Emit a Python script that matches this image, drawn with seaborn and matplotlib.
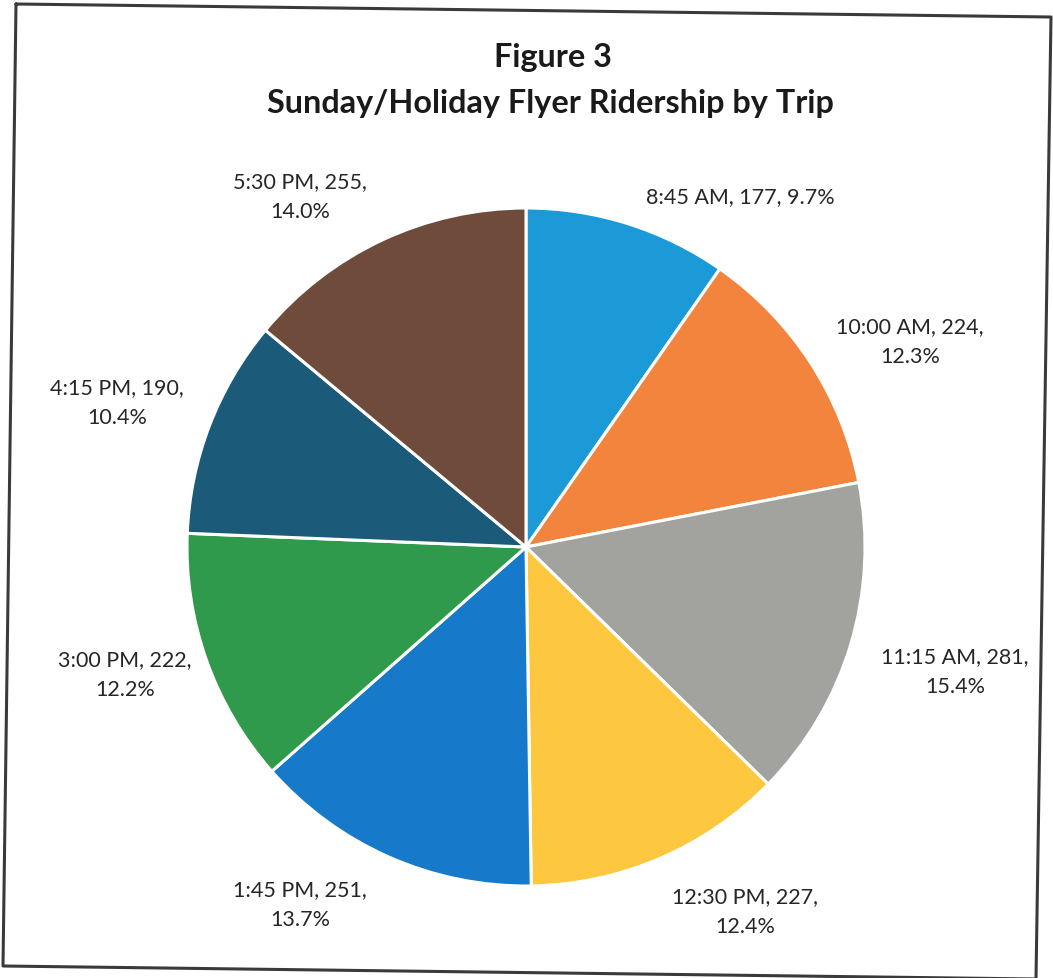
import matplotlib
matplotlib.use("Agg")
import matplotlib.pyplot as plt
import seaborn as sns
from matplotlib.lines import Line2D

# Ridership per Sunday/Holiday Flyer trip
trips = ["8:45 AM", "10:00 AM", "11:15 AM", "12:30 PM",
         "1:45 PM", "3:00 PM", "4:15 PM", "5:30 PM"]
riders = [177, 224, 281, 227, 251, 222, 190, 255]
slice_colors = ["#1C9AD8", "#F3843E", "#A2A39E", "#FDC83F",
                "#1679C9", "#2F9A4C", "#1B5A78", "#6F4B3B"]

title_lines = ["Figure 3", "Sunday/Holiday Flyer Ridership by Trip"]

sns.set_theme(style="white")
plt.rcParams["font.family"] = ["Lato", "DejaVu Sans"]

W, H = 1053, 979
fig = plt.figure(figsize=(W / 100, H / 100), dpi=100)
ax = fig.add_axes([0, 0, 1, 1])

palette = sns.color_palette(slice_colors)

# Pie, clockwise from 12 o'clock
cx, cy, r = 526, H - 548, 339
ax.pie(riders, colors=palette, startangle=90, counterclock=False,
       center=(cx, cy), radius=r, frame=True,
       wedgeprops=dict(edgecolor="white", linewidth=2.2))
ax.set_xlim(0, W)
ax.set_ylim(0, H)
ax.set_aspect("equal")
ax.axis("off")

# Data labels: "trip, count, percent"
total = sum(riders)
label_xy = [(740, 197), (910, 342), (955, 672), (745, 912),
            (300, 905), (125, 675), (117, 403), (300, 197)]
for trip, n, (lx, ly) in zip(trips, riders, label_xy):
    pct = 100 * n / total
    if trip == "8:45 AM":
        txt = f"{trip}, {n}, {pct:.1f}%"
    else:
        txt = f"{trip}, {n},\n{pct:.1f}%"
    ax.text(lx, H - ly, txt, ha="center", va="center", fontsize=15.5,
            color="#262626", linespacing=1.6)

# Title
ax.text(553, H - 58, title_lines[0], ha="center", va="center",
        fontsize=23.3, fontweight="bold", color="#1a1a1a")
ax.text(550, H - 103, title_lines[1], ha="center", va="center",
        fontsize=23.3, fontweight="bold", color="#1a1a1a")

# Frame around the chart
corners = [(16, 5), (1051, 18), (1036, 980), (3, 967), (16, 5)]
fx = [p[0] for p in corners]
fy = [H - p[1] for p in corners]
ax.add_line(Line2D(fx, fy, color="#3a3a3a", linewidth=2.2, clip_on=False))

fig.savefig("out.png", dpi=100, facecolor="white")
